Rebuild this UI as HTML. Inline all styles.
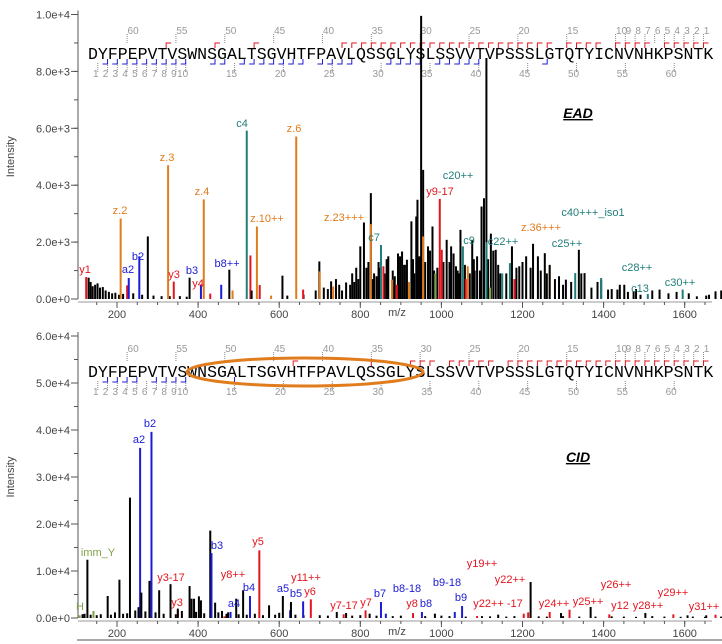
<!DOCTYPE html>
<html><head><meta charset="utf-8"><style>
body{margin:0;background:#fff;}
svg{display:block;font-family:"Liberation Sans",sans-serif;}
</style></head><body>
<svg id="fig" width="722" height="644" viewBox="0 0 722 644"></svg>
<script>
// ---- data ----
const seq = "DYFPEPVTVSWNSGALTSGVHTFPAVLQSSGLYSLSSVVTVPSSSLGTQTYICNVNHKPSNTK";
const eadMz  = [124,225,229,255,276,209,326,340,407,414,430,457,477,485,379,520,529,532,545,552,580,608,642,659,699,700,728,733,748,765,800,809,826,826,834,851,857,869,878,898,903,915,926,938,941,950,955,955,967,978,996,1001,1013,1024,1036,1047,1053,1065,1076,1088,1099,1105,1111,1111,1122,1134,1169,1174,1192,1209,1226,1238,1255,1267,1267,1290,1307,1330,1339,1353,1394,1394,1411,1434,1451,1474,1491,1509,1538,1595,1630,1676,1653,1120,1060,985,890,920,1150,1180];
const eadInt = [772,480,737,1500,2200,2830,4700,610,490,3500,190,500,1030,300,750,5920,1530,300,2550,490,120,820,5710,330,1320,970,620,440,500,580,1850,2690,3720,2630,900,1900,1150,1500,680,1500,1670,1380,2730,2900,3490,9950,4540,2200,1850,2550,3520,1730,2080,1850,1150,2430,1850,1150,2080,1500,3250,3540,8470,2000,2300,1730,1260,1850,1150,1500,1940,1500,1610,1150,1200,800,680,910,1730,910,680,740,330,330,500,270,150,175,330,330,94,270,120,400,700,900,500,600,900,700];
const eadType= ["r","r","b","b","k","o","o","r","b","o","r","b","k","o","k","t","r","k","o","r","o","k","o","r","k","o","k","o","k","k","k","k","k","o","k","t","r","k","o","k","k","k","k","k","k","k","k","o","k","k","r","r","k","k","k","k","t","o","k","k","k","k","k","t","k","k","t","k","k","k","k","k","k","o","k","k","k","t","k","k","k","t","k","k","k","k","k","t","k","t","k","k","k","g","r","g","r","o","t","r"];
const eadNoiseMz  = [130,135,140,146,152,158,165,172,180,188,196,205,215,240,262,290,310,330,355,372,620,660,690,710,720,740,755,775,785,795,815,840,845,860,880,910,930,960,990,1020,1040,1070,1080,1095,1140,1160,1200,1220,1245,1260,1280,1300,1320,1345,1370,1385,1420,1440,1460,1480,1520,1560,1580,1610,1660,1690,780,790,820,830,848,865,885,893,908,933,946,972,982,1005,1030,1044,1058,1082,1115,1128,1145,1185];
const eadNoiseInt = [750,600,450,500,550,400,420,300,250,200,220,150,180,200,150,120,100,100,100,80,120,150,300,400,350,700,300,500,600,700,1100,800,1300,900,1000,1200,1400,1300,1100,1300,1000,900,1400,1000,1200,900,1300,1100,1000,900,700,500,600,900,400,600,350,500,250,350,300,200,250,200,150,300,900,1100,1300,700,1100,1400,800,1600,1200,900,1500,1700,1000,1300,1600,900,1200,1000,1400,1700,900,1100];
const cidMz  = [127,108,142,177,206,232,257,260,253,285,280,304,332,350,350,379,384,390,402,407,430,433,442,459,474,480,465,494,511,528,551,575,609,627,629,659,678,742,765,759,813,823,851,863,930,952,984,1033,1051,1088,1140,1203,1220,1267,1295,1316,1368,1414,1503,1572,1607,1676,1653,1214];
const cidInt = [12400,570,1500,4680,8150,25600,36200,5400,2300,39600,7900,5900,7200,1630,2000,6800,4100,4100,4600,3750,18600,13800,3260,1500,1200,1280,350,4100,5900,4680,14400,2700,4680,1630,3400,3540,3970,1280,1060,780,1630,920,3400,920,1060,1280,920,1280,2550,430,710,920,7660,1280,1060,1770,2340,780,1060,780,570,710,570,1200];
const cidType= ["k","g","g","k","k","k","b","k","k","b","k","k","k","r","k","k","k","k","k","k","k","b","k","k","k","b","r","k","k","b","r","k","k","b","k","b","r","k","k","r","r","k","b","b","r","b","k","b","b","r","k","r","k","r","k","r","k","r","k","r","k","r","k","r"];
const cidNoiseMz  = [115,120,135,150,160,185,195,215,225,245,270,295,315,345,360,395,415,450,470,500,520,540,560,590,600,640,660,700,720,780,800,840,880,900,960,1000,1020,1060,1100,1120,1160,1180,1240,1260,1300,1340,1380,1420,1450,1480,1520,1550,1590,1620,1650,1690];
const cidNoiseInt = [800,900,700,600,800,700,1200,900,1000,1600,1400,1200,900,800,1500,1300,1000,1200,900,800,700,900,600,700,1100,700,600,600,500,500,600,500,400,500,400,500,400,300,400,350,300,400,350,300,400,300,300,350,300,250,400,300,250,300,250,300];
const xTicks = [200,400,600,800,1000,1200,1400,1600];
const eadYTicks = [0,2000,4000,6000,8000,10000];
const eadYLabels = ["0.0e+0","2.0e+3","4.0e+3","6.0e+3","8.0e+3","1.0e+4"];
const cidYTicks = [0,10000,20000,30000,40000,50000,60000];
const cidYLabels = ["0.0e+0","1.0e+4","2.0e+4","3.0e+4","4.0e+4","5.0e+4","6.0e+4"];
const eadLabText = ["y1","a2","b2","z.2","z.3","y3","b3","y4","b8++","z.4","c4","z.6","z.10++","z.23+++","c7","c20++","y9-17","c9","c22++","z.36+++","c25++","c40+++_iso1","c28++","c13","c30++"];
const eadLabX = [85,128,138,120,167,174,192,198,227,202,242,294,267,344,374,458,440,469,503,541,567,593,637,640,680];
const eadLabY = [269,269,256,210,157,274,270,283,263,191,123,128,218,217,237,175,191,240,241,227,243,212,267,288,282];
const eadLabType = ["r","b","b","o","o","r","b","r","b","o","t","o","o","o","t","t","r","t","t","o","t","t","t","t","t"];
const cidLabText = ["H","imm_Y","a2","b2","y3-17","y3","b3","y8++","a4","b4","y5","y11++","a5","b5","y6","y7-17","y7","b7","b8-18","y8","b8","b9-18","b9","y19++","y22++","y22++ -17","y24++","y25++","y26++","y12","y28++","y29++","y31++"];
const cidLabX = [80,98,139,150,171,177,217,233,234,249,258,306,283,296,310,344,366,380,407,412,426,447,461,482,510,498,554,588,616,620,648,673,704];
const cidLabY = [606,552,439,423,577,602,545,574,603,587,541,577,588,593,591,605,602,593,588,603,603,582,597,563,579,603,603,601,584,605,605,592,606];
const cidLabType = ["g","g","b","b","r","r","b","r","b","b","r","r","b","b","r","r","r","b","b","r","b","b","b","r","r","r","r","r","r","r","r","r","r"];
const eadRed = [8,13,17,26,27,28,29,30,31,32,33,34,35,36,37,38,39,40,41,42,43,44,45,46,47,49,50,51,52,54,55,56,57,59,60,61,62,63];
const eadBlue = [2,3,4,5,6,7,8,9,10,13,14,16,17,18,19,20,21,22,24,25,26,27,31,32,33,34,36,37,38,39,40,47];
const cidRed = [21,29,33,34,35,37,38,39,40,41,43,44,45,46,47,48,49,50,51,52,53,54,55,56,57,58,59,60,61,62,63];
const cidBlue = [2,3,4,5,7,8,9,10,15];

// ---- helpers ----
const NS="http://www.w3.org/2000/svg";
const svg=document.getElementById('fig');
const COL={k:"#000",r:"#e3161f",b:"#1c1cd6",o:"#e07c1c",t:"#207e7a",g:"#7ea246"};
function mk(tag,attrs,parent){const e=document.createElementNS(NS,tag);for(const k in attrs)e.setAttribute(k,attrs[k]);(parent||svg).appendChild(e);return e;}
const xS = mz => 117 + (mz-200)*0.4055;
const yT = v => 299 - v*0.02845;
const yB = v => 618 - v*0.0047;
const CW = 9.77, SX = 88;

function panel(g, yS, y0, ticks, tlabels, minorStep, maxV, seqY, redB, blueB, name){
  const ax=mk('line',{x1:78,y1:yS(maxV)-4,x2:78,y2:y0,stroke:"#555","stroke-width":1},g);
  
  
  for(let v=0; v<=maxV; v+=minorStep){
    mk('line',{x1:74,y1:yS(v),x2:78,y2:yS(v),stroke:"#555"},g);
  }
  ticks.forEach((v,i)=>{
    mk('line',{x1:71,y1:yS(v),x2:78,y2:yS(v),stroke:"#555"},g);
    const t=mk('text',{x:70,y:yS(v)+4,"text-anchor":"end","font-size":11,fill:"#444"},g);
    t.textContent=tlabels[i];
    
    
  });
  mk('line',{x1:78,y1:y0+3,x2:712,y2:y0+3,stroke:"#999","stroke-width":1},g);
  for(let m=150;m<=1700;m+=50){mk('line',{x1:xS(m),y1:y0+3,x2:xS(m),y2:y0+6,stroke:"#555"},g);}
  xTicks.forEach(m=>{
    mk('line',{x1:xS(m),y1:y0+3,x2:xS(m),y2:y0+9,stroke:"#555"},g);
    const t=mk('text',{x:xS(m),y:y0+19,"text-anchor":"middle","font-size":11,fill:"#444"},g);
    t.textContent=m;
    
    
  });
  const xl=mk('text',{x:397,y:y0+17,"text-anchor":"middle","font-size":11,fill:"#444"},g);
  xl.textContent="m/z";
  
  
  const yl=mk('text',{x:14,y:(yS(maxV)+y0)/2,"text-anchor":"middle","font-size":11,fill:"#444",transform:`rotate(-90 14 ${(yS(maxV)+y0)/2})`},g);
  yl.textContent="Intensity";
  
  
  const s=mk('text',{x:SX,y:seqY+6,"font-family":"Liberation Mono, monospace","font-size":17,textLength:CW*64,lengthAdjust:"spacingAndGlyphs",fill:"#000"},g);
  s.textContent=seq;
  
  
  const topN=[60,55,50,45,40,35,30,25,20,15,10,9,8,7,6,5,4,3,2,1];
  topN.forEach(n=>{const k=64-n,x=SX+CW*k;
    mk('line',{x1:x,y1:seqY-19,x2:x,y2:seqY-9,stroke:"#888","stroke-dasharray":"1,1"},g);
    const t=mk('text',{x:x+(n>=10?6:3),y:seqY-19,"text-anchor":"middle","font-size":10,fill:"#999"},g);t.textContent=n;});
  const botN=[1,2,3,4,5,6,7,8,9,10,15,20,25,30,35,40,45,50,55,60];
  botN.forEach(n=>{const x=SX+CW*n;
    mk('line',{x1:x,y1:seqY+10,x2:x,y2:seqY+19,stroke:"#888","stroke-dasharray":"1,1"},g);
    const t=mk('text',{x:x-(n>=10?3:2),y:seqY+24,"text-anchor":"middle","font-size":10,fill:"#999"},g);t.textContent=n;});
  redB.forEach(k=>{const x=SX+CW*k;mk('path',{d:`M${x} ${seqY-5}V${seqY-10}H${x+5}`,stroke:"#e3161f",fill:"none"},g);});
  blueB.forEach(k=>{const x=SX+CW*k;mk('path',{d:`M${x-5} ${seqY+11}H${x}V${seqY+6}`,stroke:"#1c1cd6",fill:"none"},g);});
}

function bars(g, mzA, intA, typeA, yS, y0, name){
  mzA.forEach((m,i)=>{
    const c = typeA ? COL[typeA[i]] : "#000";
    const l=mk('line',{x1:xS(m),y1:yS(intA[i]),x2:xS(m),y2:y0,stroke:c,"stroke-width":2},g);
    
    
  });
}
function labels(g, txt, xs, ys, ts, name){
  txt.forEach((s,i)=>{
    const t=mk('text',{x:xs[i],y:ys[i]+4,"text-anchor":"middle","font-size":11,fill:COL[ts[i]]},g);
    t.textContent=s;
    
    
  });
}

const gT=mk('g',{});


panel(gT,yT,299,eadYTicks,eadYLabels,1000,10000,53,eadRed,eadBlue,'ead');
bars(gT,eadNoiseMz,eadNoiseInt,null,yT,299,'ead-noise');
bars(gT,eadMz,eadInt,eadType,yT,299,'ead');
labels(gT,eadLabText,eadLabX,eadLabY,eadLabType,'ead');
const e1=mk('text',{x:578,y:118,"text-anchor":"middle","font-size":14,"font-weight":"bold","font-style":"italic","text-decoration":"underline",fill:"#000"},gT);
e1.textContent="EAD";



const gB=mk('g',{});


panel(gB,yB,618,cidYTicks,cidYLabels,5000,60000,371,cidRed,cidBlue,'cid');
bars(gB,cidNoiseMz,cidNoiseInt,null,yB,618,'cid-noise');
bars(gB,cidMz,cidInt,cidType,yB,618,'cid');
labels(gB,cidLabText,cidLabX,cidLabY,cidLabType,'cid');
const e2=mk('text',{x:578,y:462,"text-anchor":"middle","font-size":14,"font-weight":"bold","font-style":"italic","text-decoration":"underline",fill:"#000"},gB);
e2.textContent="CID";


const el=mk('ellipse',{cx:305,cy:372,rx:118,ry:14,fill:"none",stroke:"#e07c1c","stroke-width":3},gB);


const bar=mk('line',{x1:77,y1:640,x2:722,y2:640,stroke:"#aaa","stroke-width":2},gB);


</script>
</body></html>
